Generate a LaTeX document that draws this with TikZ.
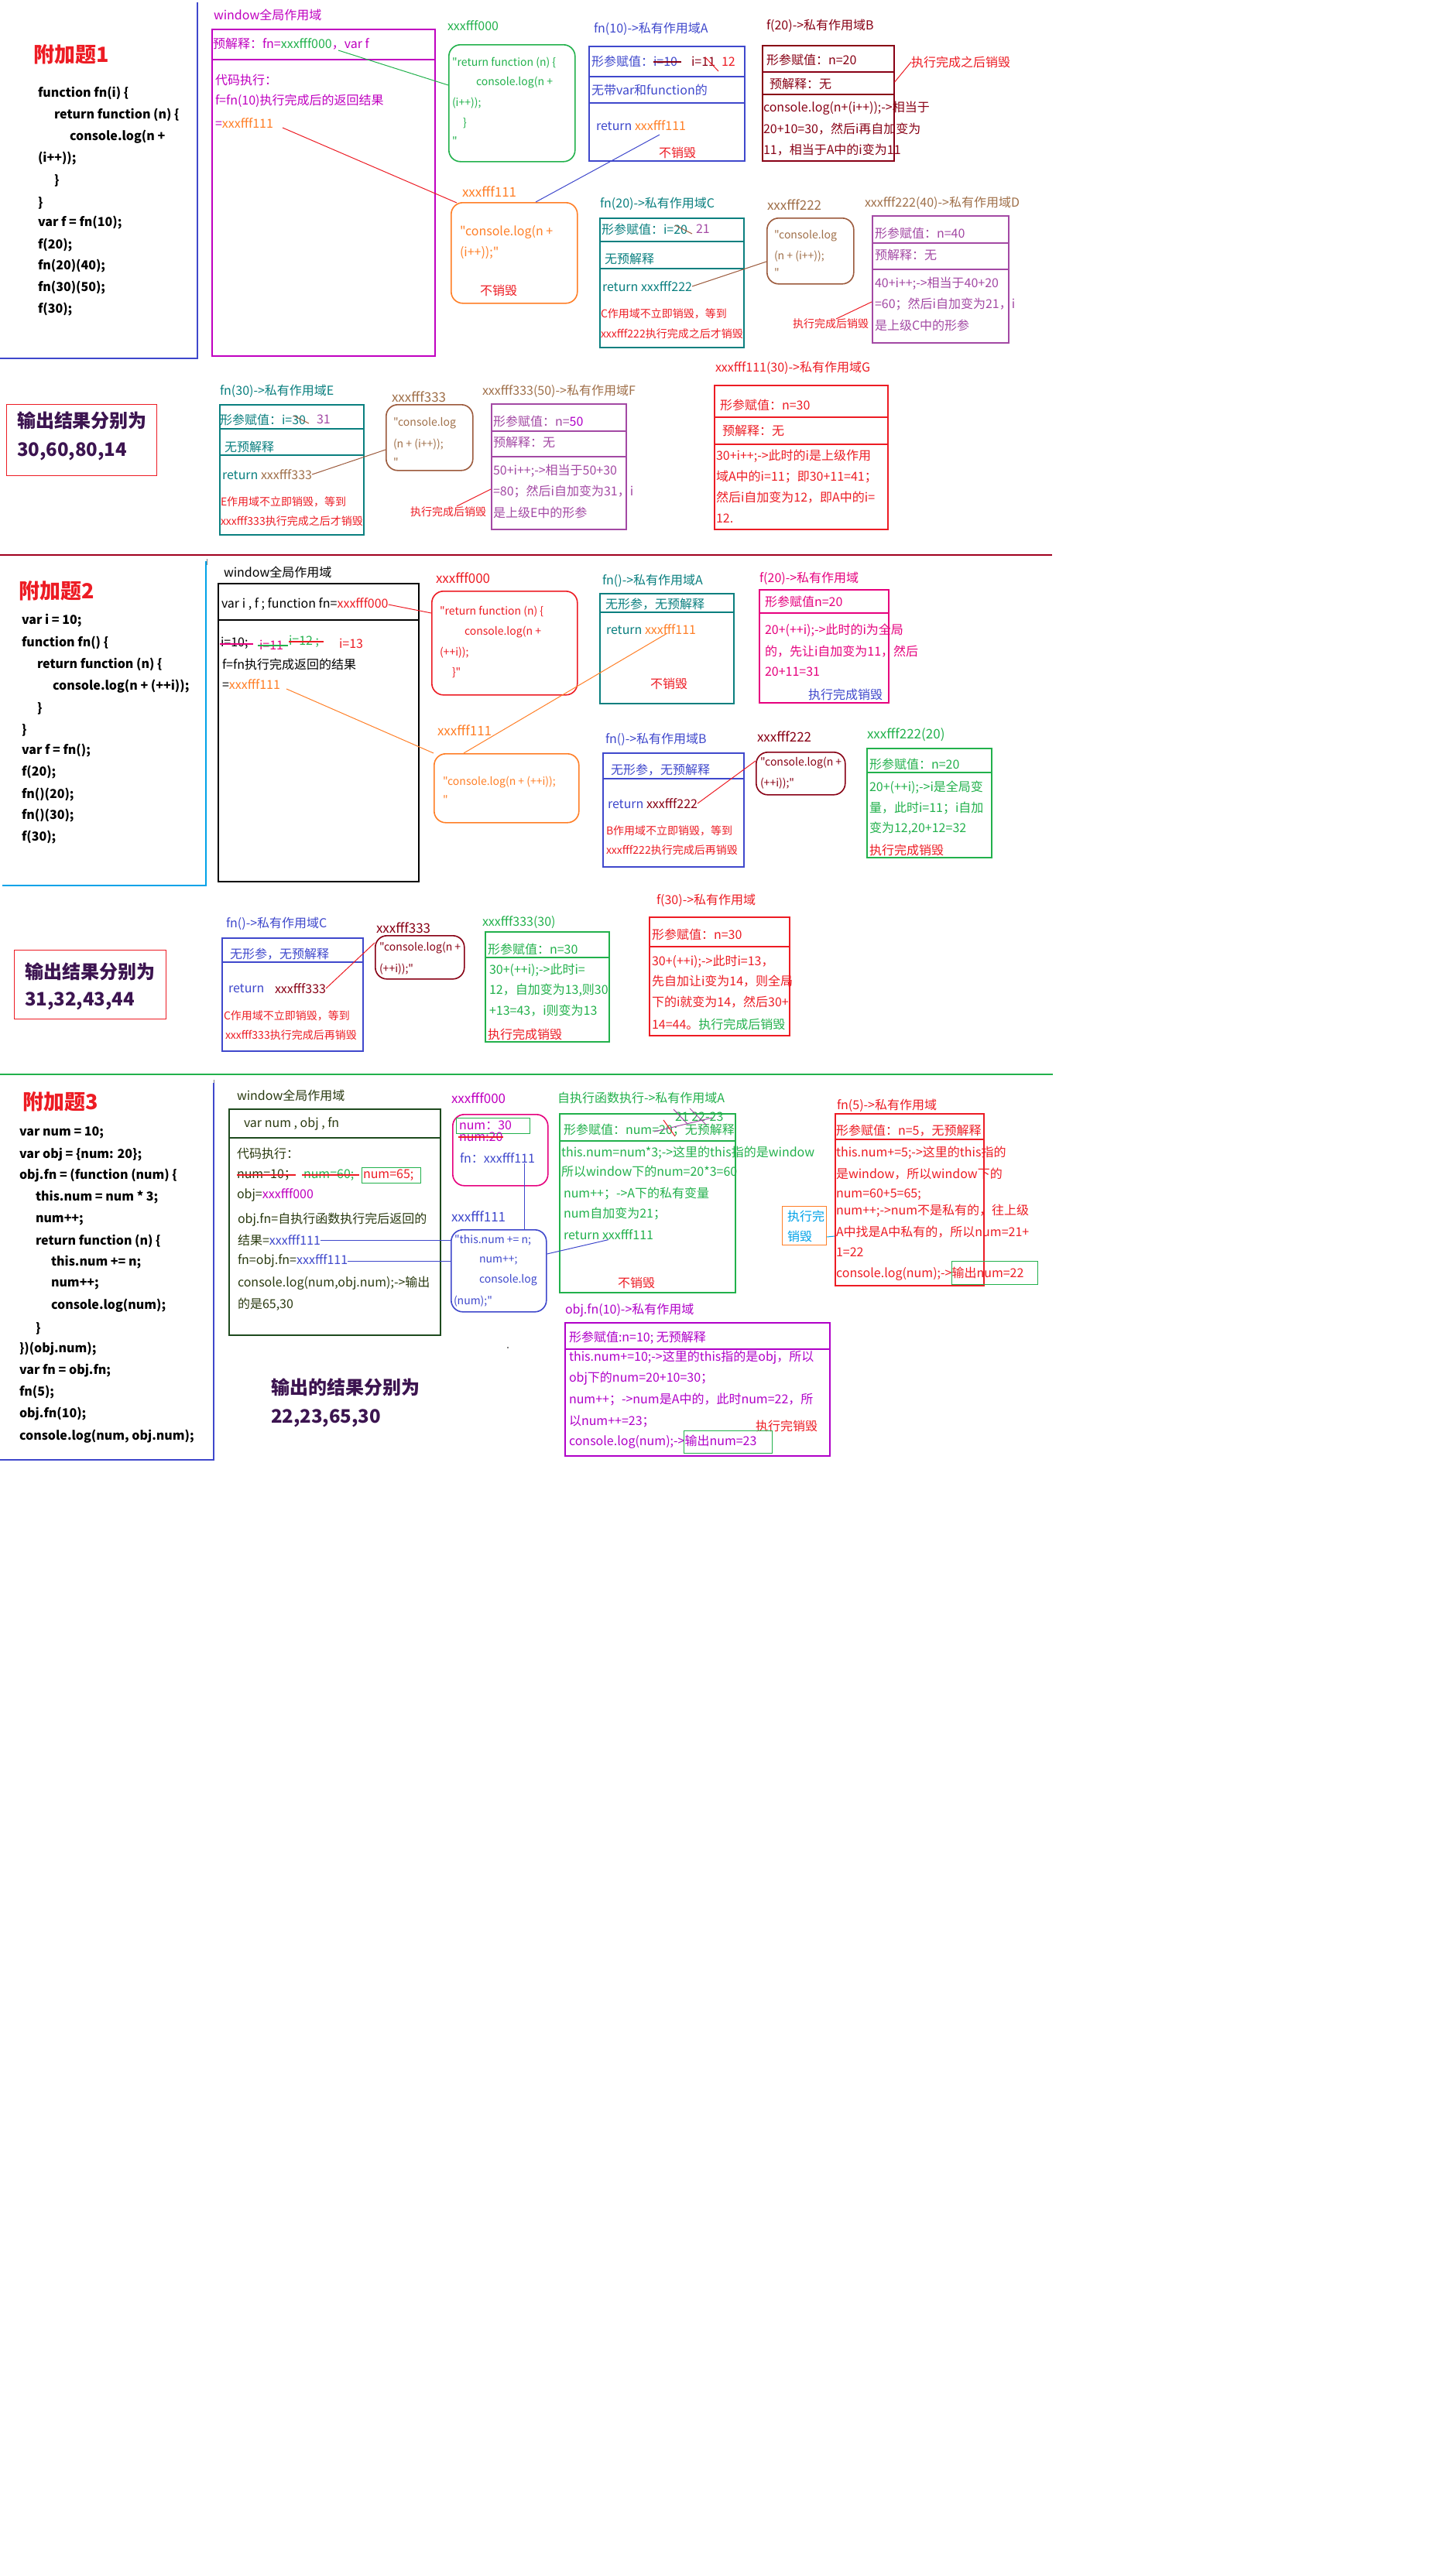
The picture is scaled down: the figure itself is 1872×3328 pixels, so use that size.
\documentclass[tikz,border=0pt]{standalone}
\usepackage{fontspec}
\setmainfont{Noto Sans CJK SC}[Ligatures=TeXOff]
\usetikzlibrary{calc}
\newcommand\fsz[1]{\fontsize{#1}{#1}\selectfont}
\definecolor{cMag}{HTML}{C000C0}
\definecolor{cGrn}{HTML}{22B14C}
\definecolor{cInd}{HTML}{3F48CC}
\definecolor{cDR}{HTML}{880015}
\definecolor{cRed}{HTML}{ED1C24}
\definecolor{cOr}{HTML}{FF7F27}
\definecolor{cTeal}{HTML}{0A7F7F}
\definecolor{cBr}{HTML}{9C5A3C}
\definecolor{cBrT}{HTML}{A0704A}
\definecolor{cPur}{HTML}{A349A4}
\definecolor{cPink}{HTML}{E6007E}
\definecolor{cSky}{HTML}{00A2E8}
\definecolor{cAns}{HTML}{3C1450}
\definecolor{cDG}{HTML}{1E4A1E}
\definecolor{cDGT}{HTML}{2A3A10}
\definecolor{cSep}{HTML}{A0001E}
\definecolor{cVio}{HTML}{B000C8}
\newcommand\tn[5]{\node[tx,#4] (#1) at (#2,#3) {#5};}
\newcommand\bxn[6]{\node[#6, anchor=north west, minimum width=#4pt-#2pt, minimum height=#5pt-#3pt, inner sep=0pt] (#1) at (#2,#3) {};}
\begin{document}
\begin{tikzpicture}[x=1pt,y=-1pt,
  tx/.style={anchor=west, inner sep=0pt, outer sep=0pt, font=\fsz{16}},
  sm/.style={font=\fsz{14}},
  code/.style={font=\bfseries\fsz{16}},
  ttl/.style={font=\bfseries\fsz{27}, text=cRed},
  ans/.style={font=\bfseries\fsz{24}, text=cAns},
  bx/.style={draw, line width=1.6pt},
  rbx/.style={draw, line width=1.6pt, rounded corners=15pt},
  ln/.style={line width=1pt},
  sk/.style={line width=1.2pt}]
\useasboundingbox[fill=white] (0,0) rectangle (1872,3328);

%================ Problem 1 =================
\tn{p1t}{43}{70}{ttl}{附加题1}
\tn{p1c1}{49}{120}{code}{function fn(i) \{}
\tn{p1c2}{70}{148}{code}{return function (n) \{}
\tn{p1c3}{90}{177}{code}{console.log(n +}
\tn{p1c4}{49}{205}{code}{(i++));}
\tn{p1c5}{70}{233}{code}{\}}
\tn{p1c6}{49}{262}{code}{\}}
\tn{p1c7}{49}{288}{code}{var f = fn(10);}
\tn{p1c8}{49}{317}{code}{f(20);}
\tn{p1c9}{49}{344}{code}{fn(20)(40);}
\tn{p1c10}{49}{372}{code}{fn(30)(50);}
\tn{p1c11}{49}{400}{code}{f(30);}
\coordinate (p1L1) at (255,3);
\coordinate (p1L2) at (255,463);
\coordinate (p1L3) at (0,463);
\draw[cInd, line width=1.5pt] (p1L1) -- (p1L2) -- (p1L3);

% window
\tn{w1l}{276}{19}{text=cMag}{window全局作用域}
\bxn{w1}{273}{37}{561}{459}{bx, draw=cMag}
\draw[cMag, line width=1.6pt] (w1.west |- 0,77) -- (w1.east |- 0,77);
\tn{w1a}{275}{57}{text=cMag}{预解释：fn=\textcolor{cGrn}{xxxfff000}，var f}
\tn{w1b}{278}{103}{text=cMag}{代码执行：}
\tn{w1c}{278}{130}{text=cMag}{f=fn(10)执行完成后的返回结果}
\tn{w1d}{278}{159}{text=cMag}{=\textcolor{cOr}{xxxfff111}}

% green function box
\tn{g1l}{578}{33}{text=cGrn}{xxxfff000}
\bxn{g1}{579}{57}{742}{208}{rbx, draw=cGrn}
\tn{g1a}{584}{81}{sm,text=cGrn}{"return function (n) \{}
\tn{g1b}{615}{107}{sm,text=cGrn}{console.log(n +}
\tn{g1c}{584}{133}{sm,text=cGrn}{(i++));}
\tn{g1d}{598}{159}{sm,text=cGrn}{\}}
\tn{g1e}{584}{182}{sm,text=cGrn}{"}
\coordinate (k1) at (437,65);
\draw[ln, cGrn] (k1) -- (g1.west |- 0,110);

% box A
\tn{a1l}{767}{37}{text=cInd}{fn(10)->私有作用域A}
\bxn{a1}{760}{59}{961}{207}{bx, draw=cInd}
\draw[cInd, line width=1.6pt] (a1.west |- 0,99) -- (a1.east |- 0,99);
\draw[cInd, line width=1.6pt] (a1.west |- 0,133) -- (a1.east |- 0,133);
\tn{a1r1}{764}{79}{text=cInd}{形参赋值：}
\tn{a1r1b}{844}{79}{text=cInd}{i=10}
\draw[cDR, sk] ($(a1r1b.west)+(0,1)$) -- ($(a1r1b.east)+(5,1)$);
\tn{a1r1c}{893}{79}{text=cDR}{i=11}
\draw[cRed, ln] (911,74) -- (928,92);
\tn{a1r1d}{932}{80}{text=cRed}{12}
\tn{a1r2}{764}{116}{text=cInd}{无带var和function的}
\tn{a1r3}{770}{162}{text=cInd}{return \textcolor{cOr}{xxxfff111}}
\tn{a1r4}{851}{197}{text=cRed}{不销毁}

% box B
\tn{b1l}{990}{33}{text=cDR}{f(20)->私有作用域B}
\bxn{b1}{984}{58}{1154}{207}{bx, draw=cDR}
\draw[cDR, line width=1.6pt] (b1.west |- 0,93) -- (b1.east |- 0,93);
\draw[cDR, line width=1.6pt] (b1.west |- 0,122) -- (b1.east |- 0,122);
\tn{b1r1}{990}{77}{text=cDR}{形参赋值：n=20}
\tn{b1r2}{994}{108}{text=cDR}{预解释：无}
\tn{b1r3}{986}{140}{text=cDR}{console.log(n+(i++));->相当于}
\tn{b1r4}{986}{167}{text=cDR}{20+10=30，然后i再自加变为}
\tn{b1r5}{986}{194}{text=cDR}{11，相当于A中的i变为11}
\tn{b1n}{1177}{80}{text=cRed}{执行完成之后销毁}
\draw[ln, cRed] (b1.east |- 0,106) -- (b1n.west);

% orange box
\tn{o1l}{597}{248}{font=\fsz{17},text=cOr}{xxxfff111}
\bxn{o1}{582}{261}{745}{391}{rbx, draw=cOr}
\tn{o1a}{594}{300}{text=cOr}{"console.log(n +}
\tn{o1b}{594}{327}{text=cOr}{(i++));"}
\tn{o1c}{620}{375}{text=cRed}{不销毁}
\coordinate (k2) at (365,165);
\draw[ln, cRed] (k2) -- ($(o1.north west)+(8,1)$);
\coordinate (k3) at (852,174);
\draw[ln, cInd] (k3) -- ($(o1.north west)+(110,0)$);

% box C
\tn{c1l}{775}{263}{text=cTeal}{fn(20)->私有作用域C}
\bxn{c1}{774}{281}{960}{448}{bx, draw=cTeal}
\draw[cTeal, line width=1.6pt] (c1.west |- 0,312) -- (c1.east |- 0,312);
\draw[cTeal, line width=1.6pt] (c1.west |- 0,347) -- (c1.east |- 0,347);
\tn{c1r1}{777}{296}{text=cTeal}{形参赋值：i=20}
\draw[cBr, ln] (872,291) -- (894,302);
\tn{c1r1b}{899}{296}{text=cPur}{21}
\tn{c1r2}{781}{334}{text=cTeal}{无预解释}
\tn{c1r3}{778}{370}{text=cTeal}{return xxxfff222}
\tn{c1r4}{776}{405}{sm,text=cRed}{C作用域不立即销毁，等到}
\tn{c1r5}{776}{431}{sm,text=cRed}{xxxfff222执行完成之后才销毁}

% brown box 222
\tn{d1l}{991}{265}{font=\fsz{17},text=cBrT}{xxxfff222}
\bxn{d1}{990}{281}{1102}{366}{rbx, draw=cBr}
\tn{d1a}{1000}{305}{sm,text=cBrT}{"console.log}
\tn{d1b}{1000}{331}{sm,text=cBrT}{(n + (i++));}
\tn{d1c}{1000}{352}{sm,text=cBrT}{"}
\draw[ln, cBr] (c1r3.east) -- (d1.west |- 0,338);

% box D
\tn{e1l}{1117}{262}{text=cBrT}{xxxfff222(40)->私有作用域D}
\bxn{e1}{1126}{278}{1302}{442}{bx, draw=cPur}
\draw[cPur, line width=1.6pt] (e1.west |- 0,314) -- (e1.east |- 0,314);
\draw[cPur, line width=1.6pt] (e1.west |- 0,348) -- (e1.east |- 0,348);
\tn{e1r1}{1130}{301}{text=cPur}{形参赋值：n=40}
\tn{e1r2}{1130}{329}{text=cPur}{预解释：无}
\tn{e1r3}{1130}{366}{text=cPur}{40+i++;->相当于40+20}
\tn{e1r4}{1130}{393}{text=cPur}{=60；然后i自加变为21，i}
\tn{e1r5}{1130}{420}{text=cPur}{是上级C中的形参}
\tn{e1n}{1024}{418}{sm,text=cRed}{执行完成后销毁}
\coordinate (k4) at (1080,412);
\draw[ln, cRed] (k4) -- (e1.west |- 0,390);

% output 1
\bxn{r1}{8}{522}{202}{614}{draw=cRed, line width=1.2pt}
\tn{r1a}{22}{543}{ans}{输出结果分别为}
\tn{r1b}{22}{583}{ans}{30,60,80,14}

% box E
\tn{f1l}{284}{505}{text=cTeal}{fn(30)->私有作用域E}
\bxn{f1}{283}{522}{469}{690}{bx, draw=cTeal}
\draw[cTeal, line width=1.6pt] (f1.west |- 0,554) -- (f1.east |- 0,554);
\draw[cTeal, line width=1.6pt] (f1.west |- 0,588) -- (f1.east |- 0,588);
\tn{f1r1}{284}{542}{text=cTeal}{形参赋值：i=30}
\draw[cBr, ln] (379,537) -- (399,547);
\tn{f1r1b}{409}{542}{text=cPur}{31}
\tn{f1r2}{290}{577}{text=cTeal}{无预解释}
\tn{f1r3}{287}{613}{text=cTeal}{return \textcolor{cBrT}{xxxfff333}}
\tn{f1r4}{285}{648}{sm,text=cRed}{E作用域不立即销毁，等到}
\tn{f1r5}{285}{673}{sm,text=cRed}{xxxfff333执行完成之后才销毁}

% brown box 333
\tn{h1l}{506}{513}{font=\fsz{17},text=cBrT}{xxxfff333}
\bxn{h1}{498}{522}{610}{607}{rbx, draw=cBr}
\tn{h1a}{508}{547}{sm,text=cBrT}{"console.log}
\tn{h1b}{508}{574}{sm,text=cBrT}{(n + (i++));}
\tn{h1c}{508}{597}{sm,text=cBrT}{"}
\draw[ln, cBr] (f1r3.east) -- (h1.west |- 0,581);

% box F
\tn{i1l}{623}{505}{text=cBrT}{xxxfff333(50)->私有作用域F}
\bxn{i1}{634}{521}{808}{683}{bx, draw=cPur}
\draw[cPur, line width=1.6pt] (i1.west |- 0,557) -- (i1.east |- 0,557);
\draw[cPur, line width=1.6pt] (i1.west |- 0,590) -- (i1.east |- 0,590);
\tn{i1r1}{637}{544}{text=cPur}{形参赋值：n=\textcolor{cVio}{50}}
\tn{i1r2}{637}{571}{text=cPur}{预解释：无}
\tn{i1r3}{637}{608}{text=cPur}{50+i++;->相当于50+30}
\tn{i1r4}{637}{635}{text=cPur}{=80；然后i自加变为31，i}
\tn{i1r5}{637}{662}{text=cPur}{是上级E中的形参}
\tn{i1n}{530}{661}{sm,text=cRed}{执行完成后销毁}
\coordinate (k5) at (590,654);
\draw[ln, cRed] (k5) -- (i1.west |- 0,632);

% box G
\tn{j1l}{924}{475}{text=cRed}{xxxfff111(30)->私有作用域G}
\bxn{j1}{922}{497}{1146}{683}{bx, draw=cRed}
\draw[cRed, line width=1.6pt] (j1.west |- 0,539) -- (j1.east |- 0,539);
\draw[cRed, line width=1.6pt] (j1.west |- 0,574) -- (j1.east |- 0,574);
\tn{j1r1}{930}{523}{text=cRed}{形参赋值：n=30}
\tn{j1r2}{933}{556}{text=cRed}{预解释：无}
\tn{j1r3}{925}{589}{text=cRed}{30+i++;->此时的i是上级作用}
\tn{j1r4}{925}{616}{text=cRed}{域A中的i=11；即30+11=41；}
\tn{j1r5}{925}{643}{text=cRed}{然后i自加变为12，即A中的i=}
\tn{j1r6}{925}{670}{text=cRed}{12.}

% separator 1
\coordinate (s1a) at (0,717);
\coordinate (s1b) at (1359,717);
\draw[cSep, line width=1.5pt] (s1a) -- (s1b);
\coordinate (s1c) at (267,722);
\coordinate (s1d) at (267,730);
\draw[gray, line width=0.6pt] (s1c) -- (s1d);

%================ Problem 2 =================
\tn{p2t}{24}{763}{ttl}{附加题2}
\tn{p2c1}{28}{802}{code}{var i = 10;}
\tn{p2c2}{28}{830}{code}{function fn() \{}
\tn{p2c3}{48}{858}{code}{return function (n) \{}
\tn{p2c4}{68}{887}{code}{console.log(n + (++i));}
\tn{p2c5}{48}{915}{code}{\}}
\tn{p2c6}{28}{943}{code}{\}}
\tn{p2c7}{28}{970}{code}{var f = fn();}
\tn{p2c8}{28}{998}{code}{f(20);}
\tn{p2c9}{28}{1027}{code}{fn()(20);}
\tn{p2c10}{28}{1054}{code}{fn()(30);}
\tn{p2c11}{28}{1082}{code}{f(30);}
\coordinate (p2L1) at (266,725);
\coordinate (p2L2) at (266,1144);
\coordinate (p2L3) at (3,1144);
\draw[cSky, line width=1.5pt] (p2L1) -- (p2L2) -- (p2L3);

% window 2
\tn{w2l}{289}{739}{}{window全局作用域}
\bxn{w2}{281}{753}{540}{1138}{bx, draw=black}
\draw[black, line width=1.6pt] (w2.west |- 0,801) -- (w2.east |- 0,801);
\tn{w2a}{286}{781}{}{var i , f ; function fn=\textcolor{cRed}{xxxfff000}}
\tn{w2b}{285}{831}{}{i=10;}
\draw[cPink, sk] (284,832) -- (327,832);
\tn{w2c}{335}{833}{text=cPink}{i=11}
\draw[cGrn, sk] (333,834) -- (372,834);
\tn{w2d}{373}{829}{text=cGrn}{i=12 ;}
\draw[cRed, sk] (373,829) -- (418,829);
\tn{w2e}{438}{831}{text=cRed}{i=13}
\tn{w2f}{287}{858}{}{f=fn执行完成返回的结果}
\tn{w2g}{287}{884}{}{=\textcolor{cOr}{xxxfff111}}

% red function box
\tn{g2l}{563}{747}{font=\fsz{17},text=cRed}{xxxfff000}
\bxn{g2}{557}{763}{745}{897}{rbx, draw=cRed}
\tn{g2a}{568}{790}{sm,text=cRed}{"return function (n) \{}
\tn{g2b}{600}{817}{sm,text=cRed}{console.log(n +}
\tn{g2c}{568}{843}{sm,text=cRed}{(++i));}
\tn{g2d}{584}{869}{sm,text=cRed}{\}"}
\draw[ln, cRed] (w2a.east) -- (g2.west |- 0,792);

% A2
\tn{a2l}{778}{750}{text=cTeal}{fn()->私有作用域A}
\bxn{a2}{774}{766}{947}{908}{bx, draw=cTeal}
\draw[cTeal, line width=1.6pt] (a2.west |- 0,791) -- (a2.east |- 0,791);
\tn{a2r1}{782}{781}{text=cTeal}{无形参，无预解释}
\tn{a2r2}{783}{813}{text=cTeal}{return \textcolor{cOr}{xxxfff111}}
\tn{a2r3}{840}{883}{text=cRed}{不销毁}

% f(20) box
\tn{b2l}{981}{747}{text=cPink}{f(20)->私有作用域}
\bxn{b2}{980}{761}{1147}{907}{bx, draw=cPink}
\draw[cPink, line width=1.6pt] (b2.west |- 0,792) -- (b2.east |- 0,792);
\tn{b2r1}{988}{777}{text=cPink}{形参赋值n=20}
\tn{b2r2}{988}{814}{text=cPink}{20+(++i);->此时的i为全局}
\tn{b2r3}{988}{842}{text=cPink}{的，先让i自加变为11，然后}
\tn{b2r4}{988}{868}{text=cPink}{20+11=31}
\tn{b2r5}{1044}{897}{text=cInd}{执行完成销毁}

% orange box 2
\tn{o2l}{565}{944}{font=\fsz{17},text=cOr}{xxxfff111}
\bxn{o2}{560}{973}{747}{1062}{rbx, draw=cOr}
\tn{o2a}{572}{1011}{sm,text=cOr}{"console.log(n + (++i));}
\tn{o2b}{572}{1033}{sm,text=cOr}{"}
\coordinate (k6) at (370,890);
\draw[ln, cOr] (k6) -- (o2.north west);
\coordinate (k7) at (862,818);
\draw[ln, cOr] (k7) -- ($(o2.north west)+(39,0)$);

% B2
\tn{c2l}{782}{955}{text=cInd}{fn()->私有作用域B}
\bxn{c2}{778}{972}{960}{1119}{bx, draw=cInd}
\draw[cInd, line width=1.6pt] (c2.west |- 0,1006) -- (c2.east |- 0,1006);
\tn{c2r1}{789}{995}{text=cInd}{无形参，无预解释}
\tn{c2r2}{785}{1038}{text=cInd}{return \textcolor{cDR}{xxxfff222}}
\tn{c2r3}{783}{1073}{sm,text=cRed}{B作用域不立即销毁，等到}
\tn{c2r4}{783}{1098}{sm,text=cRed}{xxxfff222执行完成后再销毁}

% dark red box 222
\tn{d2l}{978}{952}{font=\fsz{17},text=cDR}{xxxfff222}
\bxn{d2}{976}{971}{1091}{1026}{rbx, draw=cDR}
\tn{d2a}{982}{986}{sm,text=cDR}{"console.log(n +}
\tn{d2b}{982}{1012}{sm,text=cDR}{(++i));"}
\draw[ln, cRed] (c2r2.east) -- (d2.west |- 0,983);

% green box 222(20)
\tn{e2l}{1120}{949}{font=\fsz{17},text=cGrn}{xxxfff222(20)}
\bxn{e2}{1119}{966}{1280}{1107}{bx, draw=cGrn}
\draw[cGrn, line width=1.6pt] (e2.west |- 0,998) -- (e2.east |- 0,998);
\tn{e2r1}{1123}{987}{text=cGrn}{形参赋值：n=20}
\tn{e2r2}{1123}{1017}{text=cGrn}{20+(++i);->i是全局变}
\tn{e2r3}{1123}{1044}{text=cGrn}{量，此时i=11；i自加}
\tn{e2r4}{1123}{1070}{text=cGrn}{变为12,20+12=32}
\tn{e2r5}{1123}{1098}{text=cRed}{执行完成销毁}

% output 2
\bxn{r2}{18}{1227}{214}{1316}{draw=cRed, line width=1.2pt}
\tn{r2a}{32}{1255}{ans}{输出结果分别为}
\tn{r2b}{32}{1293}{ans}{31,32,43,44}

% C2
\tn{f2l}{292}{1193}{text=cInd}{fn()->私有作用域C}
\bxn{f2}{286}{1211}{468}{1357}{bx, draw=cInd}
\draw[cInd, line width=1.6pt] (f2.west |- 0,1243) -- (f2.east |- 0,1243);
\tn{f2r1}{297}{1233}{text=cInd}{无形参，无预解释}
\tn{f2r2}{295}{1277}{text=cInd}{return}
\tn{f2r2b}{355}{1277}{text=cDR}{xxxfff333}
\tn{f2r3}{289}{1312}{sm,text=cRed}{C作用域不立即销毁，等到}
\tn{f2r4}{291}{1337}{sm,text=cRed}{xxxfff333执行完成后再销毁}

% dark red box 333
\tn{h2l}{486}{1199}{font=\fsz{17},text=cDR}{xxxfff333}
\bxn{h2}{484}{1208}{599}{1264}{rbx, draw=cDR}
\tn{h2a}{490}{1225}{sm,text=cDR}{"console.log(n +}
\tn{h2b}{490}{1252}{sm,text=cDR}{(++i));"}
\draw[ln, cRed] (f2r2b.east) -- (h2.west |- 0,1218);

% green 333(30)
\tn{i2l}{623}{1192}{text=cGrn}{xxxfff333(30)}
\bxn{i2}{626}{1203}{786}{1345}{bx, draw=cGrn}
\draw[cGrn, line width=1.6pt] (i2.west |- 0,1237) -- (i2.east |- 0,1237);
\tn{i2r1}{630}{1226}{text=cGrn}{形参赋值：n=30}
\tn{i2r2}{632}{1253}{text=cGrn}{30+(++i);->此时i=}
\tn{i2r3}{632}{1279}{text=cGrn}{12，自加变为13,则30}
\tn{i2r4}{632}{1306}{text=cGrn}{+13=43，i则变为13}
\tn{i2r5}{630}{1336}{text=cRed}{执行完成销毁}

% f(30)
\tn{j2l}{848}{1163}{text=cRed}{f(30)->私有作用域}
\bxn{j2}{838}{1184}{1019}{1337}{bx, draw=cRed}
\draw[cRed, line width=1.6pt] (j2.west |- 0,1223) -- (j2.east |- 0,1223);
\tn{j2r1}{842}{1207}{text=cRed}{形参赋值：n=30}
\tn{j2r2}{842}{1242}{text=cRed}{30+(++i);->此时i=13，}
\tn{j2r3}{842}{1268}{text=cRed}{先自加让i变为14，则全局}
\tn{j2r4}{842}{1295}{text=cRed}{下的i就变为14，然后30+}
\tn{j2r5}{842}{1323}{text=cRed}{14=44。\textcolor{cGrn}{执行完成后销毁}}

% separator 2
\coordinate (s2a) at (0,1388);
\coordinate (s2b) at (1360,1388);
\draw[cGrn, line width=1.5pt] (s2a) -- (s2b);
\coordinate (s2c) at (276,1395);
\coordinate (s2d) at (276,1400);
\draw[gray, line width=0.6pt] (s2c) -- (s2d);

%================ Problem 3 =================
\tn{p3t}{29}{1423}{ttl}{附加题3}
\tn{p3c1}{25}{1463}{code}{var num = 10;}
\tn{p3c2}{25}{1492}{code}{var obj = \{num: 20\};}
\tn{p3c3}{25}{1519}{code}{obj.fn = (function (num) \{}
\tn{p3c4}{46}{1547}{code}{this.num = num * 3;}
\tn{p3c5}{46}{1576}{code}{num++;}
\tn{p3c6}{46}{1603}{code}{return function (n) \{}
\tn{p3c7}{66}{1631}{code}{this.num += n;}
\tn{p3c8}{66}{1659}{code}{num++;}
\tn{p3c9}{66}{1687}{code}{console.log(num);}
\tn{p3c10}{46}{1716}{code}{\}}
\tn{p3c11}{25}{1743}{code}{\})(obj.num);}
\tn{p3c12}{25}{1771}{code}{var fn = obj.fn;}
\tn{p3c13}{25}{1799}{code}{fn(5);}
\tn{p3c14}{25}{1827}{code}{obj.fn(10);}
\tn{p3c15}{25}{1856}{code}{console.log(num, obj.num);}
\coordinate (p3L1) at (276,1399);
\coordinate (p3L2) at (276,1886);
\coordinate (p3L3) at (0,1886);
\draw[cInd, line width=1.5pt] (p3L1) -- (p3L2) -- (p3L3);

% window 3
\tn{w3l}{306}{1415}{text=cDGT}{window全局作用域}
\bxn{w3}{295}{1432}{568}{1724}{bx, draw=cDG}
\draw[cDG, line width=1.6pt] (w3.west |- 0,1470) -- (w3.east |- 0,1470);
\tn{w3a}{315}{1452}{text=cDGT}{var num , obj , fn}
\tn{w3b}{306}{1490}{text=cDGT}{代码执行：}
\tn{w3c}{306}{1518}{text=cDGT}{num=10；}
\draw[cRed, sk] (306,1518) -- (382,1518);
\tn{w3d}{392}{1518}{text=cGrn}{num=60;}
\draw[cRed, sk] (390,1518) -- (464,1518);
\bxn{w3box}{467}{1508}{543}{1528}{draw=cGrn, line width=1.2pt}
\tn{w3e}{469}{1518}{text=cRed}{num=65;}
\tn{w3f}{306}{1544}{text=cDGT}{obj=\textcolor{cMag}{xxxfff000}}
\tn{w3g}{307}{1576}{text=cDGT}{obj.fn=自执行函数执行完后返回的}
\tn{w3h}{307}{1602}{text=cDGT}{结果=\textcolor{cInd}{xxxfff111}}
\tn{w3i}{307}{1629}{text=cDGT}{fn=obj.fn=\textcolor{cInd}{xxxfff111}}
\tn{w3j}{307}{1658}{text=cDGT}{console.log(num,obj.num);->输出}
\tn{w3k}{307}{1685}{text=cDGT}{的是65,30}

% answer 3
\tn{r3a}{350}{1792}{ans}{输出的结果分别为}
\tn{r3b}{350}{1832}{ans}{22,23,65,30}
\coordinate (dot3) at (656,1741);
\fill[black] (dot3) circle (0.8);

% obj box
\tn{g3l}{583}{1419}{font=\fsz{17},text=cMag}{xxxfff000}
\bxn{g3}{584}{1439}{707}{1531}{rbx, draw=cPink}
\bxn{g3n}{589}{1444}{684}{1464}{draw=cGrn, line width=1.2pt}
\tn{g3a}{593}{1454}{text=cMag}{num：30}
\tn{g3b}{593}{1469}{text=cMag}{num:20}
\draw[cRed, sk] (592,1469) -- (650,1469);
\tn{g3c}{594}{1496}{text=cInd}{fn：xxxfff111}

% xxxfff111 box 3
\tn{o3l}{583}{1572}{font=\fsz{17},text=cInd}{xxxfff111}
\bxn{o3}{582}{1588}{705}{1694}{rbx, draw=cInd}
\tn{o3a}{587}{1602}{sm,text=cInd}{"this.num += n;}
\tn{o3b}{619}{1628}{sm,text=cInd}{num++;}
\tn{o3c}{619}{1654}{sm,text=cInd}{console.log}
\tn{o3d}{586}{1681}{sm,text=cInd}{(num);"}
\draw[ln, cInd] (w3h.east) -- (o3.west |- w3h.east);
\draw[ln, cInd] (w3i.east) -- (o3.west |- w3i.east);
\coordinate (k8) at (677,1503);
\draw[ln, cInd] (k8) -- (o3.north -| k8);

% A3
\tn{a3l}{720}{1418}{text=cGrn}{自执行函数执行->私有作用域A}
\bxn{a3}{722}{1438}{949}{1669}{bx, draw=cGrn}
\draw[cGrn, line width=1.6pt] (a3.west |- 0,1474) -- (a3.east |- 0,1474);
\tn{a3r1}{728}{1460}{text=cGrn}{形参赋值：num=20；无预解释}
\tn{a3r1b}{872}{1443}{text=cGrn}{21 22-23}
\draw[cPur, ln] (845,1462) -- (920,1444);
\draw[cRed, ln] (857,1447) -- (872,1468);
\draw[cPur, ln] (870,1433) -- (888,1452);
\draw[cPur, ln] (891,1432) -- (912,1453);
\tn{a3r2}{725}{1489}{text=cGrn}{this.num=num*3;->这里的this指的是window}
\tn{a3r3}{725}{1513}{text=cGrn}{所以window下的num=20*3=60}
\tn{a3r4}{728}{1542}{text=cGrn}{num++；->A下的私有变量}
\tn{a3r5}{728}{1568}{text=cGrn}{num自加变为21；}
\tn{a3r6}{728}{1595}{text=cGrn}{return xxxfff111}
\tn{a3r7}{798}{1657}{text=cRed}{不销毁}
\draw[ln, cInd] (o3.east |- 0,1620) -- ($(a3r6.south west)+(58,0)$);

% fn(5)
\tn{b3l}{1081}{1428}{text=cRed}{fn(5)->私有作用域}
\bxn{b3}{1078}{1438}{1270}{1660}{bx, draw=cRed}
\draw[cRed, line width=1.6pt] (b3.west |- 0,1472) -- (b3.east |- 0,1472);
\tn{b3r1}{1080}{1461}{text=cRed}{形参赋值：n=5，无预解释}
\tn{b3r2}{1080}{1489}{text=cRed}{this.num+=5;->这里的this指的}
\tn{b3r3}{1080}{1517}{text=cRed}{是window，所以window下的}
\tn{b3r4}{1080}{1543}{text=cRed}{num=60+5=65;}
\tn{b3r5}{1080}{1564}{text=cRed}{num++;->num不是私有的，往上级}
\tn{b3r6}{1080}{1592}{text=cRed}{A中找是A中私有的，所以num=21+}
\tn{b3r7}{1080}{1618}{text=cRed}{1=22}
\tn{b3r8}{1080}{1646}{text=cRed}{console.log(num);->输出num=22}
\bxn{b3g}{1229}{1629}{1340}{1659}{draw=cGrn, line width=1.2pt}
\bxn{b3o}{1010}{1558}{1067}{1608}{draw=cOr, line width=1.2pt}
\tn{b3oa}{1017}{1571}{text=cSky}{执行完}
\tn{b3ob}{1017}{1597}{text=cSky}{销毁}
\draw[ln, cSky] (b3o.east |- 0,1598) -- (b3.west |- 0,1597);

% obj.fn(10)
\tn{c3l}{730}{1693}{text=cVio}{obj.fn(10)->私有作用域}
\bxn{c3}{729}{1708}{1071}{1880}{bx, draw=cVio}
\draw[cVio, line width=1.6pt] (c3.west |- 0,1743) -- (c3.east |- 0,1743);
\tn{c3r1}{735}{1728}{text=cVio}{形参赋值:n=10; 无预解释}
\tn{c3r2}{735}{1754}{text=cVio}{this.num+=10;->这里的this指的是obj，所以}
\tn{c3r3}{735}{1781}{text=cVio}{obj下的num=20+10=30；}
\tn{c3r4}{735}{1808}{text=cVio}{num++；->num是A中的，此时num=22，所}
\tn{c3r5}{735}{1836}{text=cVio}{以num++=23；}
\tn{c3r6}{976}{1842}{text=cRed}{执行完销毁}
\tn{c3r7}{735}{1863}{text=cVio}{console.log(num);->输出num=23}
\bxn{c3g}{883}{1848}{997}{1877}{draw=cGrn, line width=1.2pt}
\end{tikzpicture}
\end{document}
